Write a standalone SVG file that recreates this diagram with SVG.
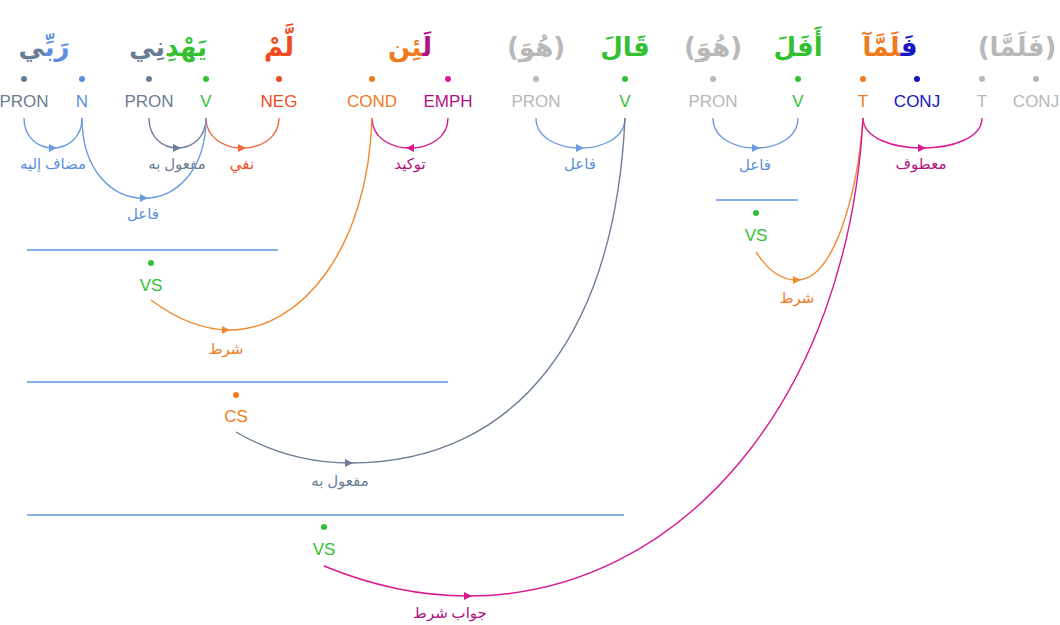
<svg xmlns="http://www.w3.org/2000/svg" width="1060" height="625" viewBox="0 0 1060 625">
<style>
.w{font-family:"DejaVu Sans",sans-serif;font-size:26px;font-weight:bold;text-anchor:middle}
.t{font-family:"Liberation Sans",Arial,sans-serif;font-size:17px;text-anchor:middle}
.a{font-family:"Liberation Serif","DejaVu Sans",serif;font-size:15px;text-anchor:middle}
.e{fill:none;stroke-width:1.4}
.hl{stroke:#5b94e0;stroke-width:1.5}
.slate{fill:#6b7d93}.blue{fill:#5b8fdc}.green{fill:#33c133}.neg{fill:#f04a1e}.orange{fill:#f07a1c}.emph{fill:#e0189a}.emtx{fill:#b0137f}.conj{fill:#1515c0}.gray{fill:#b8b8b8}
</style>
<g id="words">
<g id="w1"><text class="w" x="44" y="56"><tspan class="blue">رَبِّ</tspan><tspan class="slate">ي</tspan></text></g>
<g id="w2"><text class="w" x="168" y="56"><tspan class="green">يَهْدِ</tspan><tspan class="slate">نِي</tspan></text></g>
<g id="w3"><text class="w neg" x="279" y="56">لَّمْ</text></g>
<g id="w4"><text class="w" x="410" y="56"><tspan class="emtx">لَ</tspan><tspan class="orange">ئِن</tspan></text></g>
<g id="w5"><text class="w gray" x="536" y="56">(هُوَ)</text></g>
<g id="w6"><text class="w green" x="625" y="56">قَالَ</text></g>
<g id="w7"><text class="w gray" x="713" y="56">(هُوَ)</text></g>
<g id="w8"><text class="w green" x="798" y="56">أَفَلَ</text></g>
<g id="w9"><text class="w" x="890" y="56"><tspan class="conj">فَ</tspan><tspan class="orange">لَمَّآ</tspan></text></g>
<g id="w10"><text class="w gray" x="1017" y="56">(فَلَمَّا)</text></g>
</g>
<g id="nodes">
<g id="n1"><circle cx="24" cy="79" r="3" class="slate"/><text class="t slate" x="24" y="107">PRON</text></g>
<g id="n2"><circle cx="82" cy="79" r="3" class="blue"/><text class="t blue" x="82" y="107">N</text></g>
<g id="n3"><circle cx="149" cy="79" r="3" class="slate"/><text class="t slate" x="149" y="107">PRON</text></g>
<g id="n4"><circle cx="206" cy="79" r="3" class="green"/><text class="t green" x="206" y="107">V</text></g>
<g id="n5"><circle cx="279" cy="79" r="3" class="neg"/><text class="t neg" x="279" y="107">NEG</text></g>
<g id="n6"><circle cx="372" cy="79" r="3" class="orange"/><text class="t orange" x="372" y="107">COND</text></g>
<g id="n7"><circle cx="448" cy="79" r="3" class="emph"/><text class="t emtx" x="448" y="107">EMPH</text></g>
<g id="n8"><circle cx="536" cy="79" r="3" class="gray"/><text class="t gray" x="536" y="107">PRON</text></g>
<g id="n9"><circle cx="625" cy="79" r="3" class="green"/><text class="t green" x="625" y="107">V</text></g>
<g id="n10"><circle cx="713" cy="79" r="3" class="gray"/><text class="t gray" x="713" y="107">PRON</text></g>
<g id="n11"><circle cx="798" cy="79" r="3" class="green"/><text class="t green" x="798" y="107">V</text></g>
<g id="n12"><circle cx="863" cy="79" r="3" class="orange"/><text class="t orange" x="863" y="107">T</text></g>
<g id="n13"><circle cx="917" cy="79" r="3" class="conj"/><text class="t conj" x="917" y="107">CONJ</text></g>
<g id="n14"><circle cx="982" cy="79" r="3" class="gray"/><text class="t gray" x="982" y="107">T</text></g>
<g id="n15"><circle cx="1036" cy="79" r="3" class="gray"/><text class="t gray" x="1036" y="107">CONJ</text></g>
<g id="s1"><line class="hl" x1="716" y1="200" x2="798" y2="200"/><circle cx="756" cy="213" r="3" class="green"/><text class="t green" x="756" y="241">VS</text></g>
<g id="s2"><line class="hl" x1="27" y1="250" x2="278" y2="250"/><circle cx="151" cy="263" r="3" class="green"/><text class="t green" x="151" y="291">VS</text></g>
<g id="s3"><line class="hl" x1="27" y1="382" x2="448" y2="382"/><circle cx="236" cy="395" r="3" class="orange"/><text class="t orange" x="236" y="422">CS</text></g>
<g id="s4"><line class="hl" x1="27" y1="515" x2="624" y2="515"/><circle cx="324" cy="527" r="3" class="green"/><text class="t green" x="324" y="555">VS</text></g>
</g>
<g id="connectors">
<path class="e" stroke="#6a9be0" d="M24 118 C24 158 82 158 82 118"/>
<path fill="#6a9be0" d="M57 148 L49 144 L49 152 Z"/>
<text class="a blue" x="53" y="169">مضاف إليه</text>
<path class="e" stroke="#6d7f96" d="M149 118 C149 158 206 158 206 118"/>
<path fill="#6d7f96" d="M181 148 L173 144 L173 152 Z"/>
<text class="a slate" x="177" y="169">مفعول به</text>
<path class="e" stroke="#f0683a" d="M206 118 C206 158 279 158 279 118"/>
<path fill="#f0683a" d="M246 148 L238 144 L238 152 Z"/>
<text class="a neg" x="242" y="169">نفي</text>
<path class="e" stroke="#6a9be0" d="M82 118 C82 225 206 225 206 118"/>
<path fill="#6a9be0" d="M148 198 L140 194 L140 202 Z"/>
<text class="a blue" x="143" y="219">فاعل</text>
<path class="e" stroke="#d8198f" d="M372 118 C372 158 448 158 448 118"/>
<path fill="#d8198f" d="M406 148 L414 144 L414 152 Z"/>
<text class="a emtx" x="410" y="169">توكيد</text>
<path class="e" stroke="#6a9be0" d="M536 118 C536 158 625 158 625 118"/>
<path fill="#6a9be0" d="M584 148 L576 144 L576 152 Z"/>
<text class="a blue" x="580" y="169">فاعل</text>
<path class="e" stroke="#6a9be0" d="M713 118 C713 158 798 158 798 118"/>
<path fill="#6a9be0" d="M760 148 L752 144 L752 152 Z"/>
<text class="a blue" x="755" y="170">فاعل</text>
<path class="e" stroke="#d8198f" d="M863 118 C863 158 982 158 982 118"/>
<path fill="#d8198f" d="M926 148 L918 144 L918 152 Z"/>
<text class="a emtx" x="921" y="169">معطوف</text>
<path class="e" stroke="#f08a30" d="M756 252 C768 270 780 280 797 280 C835 280 858 190 863 118"/>
<path fill="#f08a30" d="M801 280 L793 276 L793 284 Z"/>
<text class="a orange" x="797" y="303">شرط</text>
<path class="e" stroke="#f08a30" d="M151 300 C175 318 200 330 230 330 C300 330 368 250 372 118"/>
<path fill="#f08a30" d="M230 330 L222 326 L222 334 Z"/>
<text class="a orange" x="226" y="354">شرط</text>
<path class="e" stroke="#6d7f96" d="M236 432 C270 452 310 463 350 463 C520 463 615 330 625 118"/>
<path fill="#6d7f96" d="M353 463 L345 459 L345 467 Z"/>
<text class="a slate" x="340" y="486">مفعول به</text>
<path class="e" stroke="#d8198f" d="M324 566 C370 585 420 596 468 596 C680 596 848 400 863 118"/>
<path fill="#d8198f" d="M472 596 L464 592 L464 600 Z"/>
<text class="a emtx" x="450" y="618">جواب شرط</text>
</g>
</svg>
